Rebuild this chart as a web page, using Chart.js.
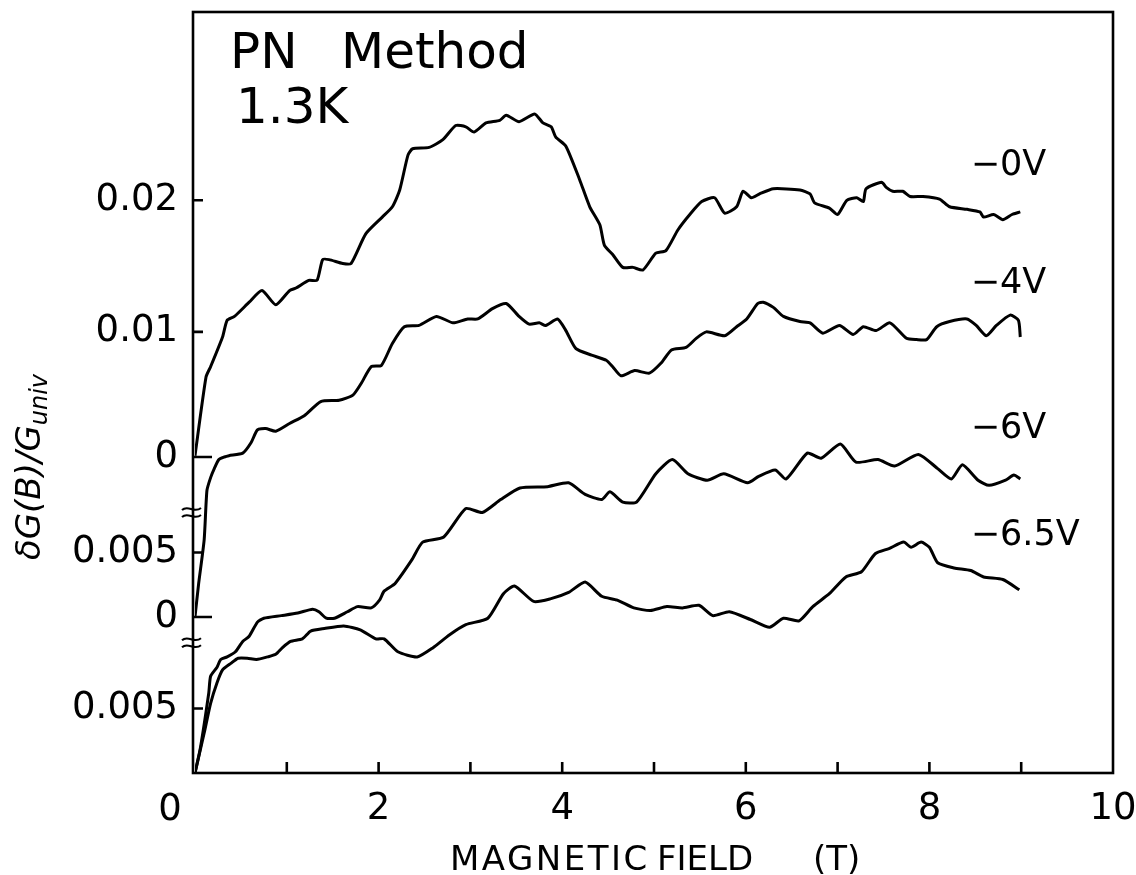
<!DOCTYPE html>
<html>
<head>
    <title>PN Method 1.3K</title>
    <script src="https://cdn.jsdelivr.net/npm/chart.js"></script>
    <style>
        body { margin: 0; background: #fff; }
        canvas { display: block; }
    </style>
</head>
<body>
    <canvas id="fieldChart" width="1136" height="875"></canvas>

    <script>
        // traces on the stacked axis, units of 1e-3 (each trace drawn on its own offset zero)
        const field0V = [0, 0.12, 0.17, 0.30, 0.35, 0.43, 0.59, 0.73, 0.88, 1.03, 1.10, 1.24, 1.33, 1.39, 1.46, 1.61, 1.70, 1.86, 2.04, 2.15, 2.23, 2.32, 2.37, 2.55, 2.70, 2.84, 2.95, 3.04, 3.17, 3.32, 3.39, 3.53, 3.70, 3.79, 3.88, 3.93, 4.04, 4.19, 4.30, 4.41, 4.46, 4.55, 4.66, 4.77, 4.88, 5.02, 5.13, 5.26, 5.39, 5.52, 5.66, 5.77, 5.90, 5.97, 6.06, 6.15, 6.30, 6.59, 6.70, 6.75, 6.91, 7.00, 7.10, 7.21, 7.28, 7.31, 7.48, 7.53, 7.60, 7.71, 7.79, 7.93, 8.11, 8.22, 8.41, 8.55, 8.59, 8.70, 8.80, 8.90, 8.99];
        const trace0V = [24.6, 30.7, 31.5, 33.8, 35.1, 35.4, 36.5, 37.4, 36.3, 37.4, 37.6, 38.2, 38.2, 39.8, 39.8, 39.5, 39.5, 41.8, 43.1, 43.9, 45.2, 47.9, 48.4, 48.5, 49.1, 50.2, 50.1, 49.7, 50.4, 50.6, 51.0, 50.5, 51.1, 50.4, 50.1, 49.3, 48.6, 46.0, 43.9, 42.5, 40.9, 40.2, 39.2, 39.2, 39.0, 40.3, 40.5, 42.1, 43.3, 44.3, 44.6, 43.4, 43.9, 45.1, 44.6, 44.9, 45.3, 45.2, 44.9, 44.2, 43.8, 43.3, 44.4, 44.6, 44.3, 45.3, 45.8, 45.4, 45.1, 45.1, 44.7, 44.7, 44.5, 43.9, 43.7, 43.5, 43.1, 43.3, 42.9, 43.3, 43.5];

        const field4V = [0, 0.04, 0.10, 0.13, 0.17, 0.21, 0.26, 0.32, 0.37, 0.52, 0.61, 0.68, 0.77, 0.88, 1.03, 1.19, 1.37, 1.57, 1.72, 1.81, 1.92, 2.03, 2.15, 2.28, 2.44, 2.63, 2.81, 2.97, 3.08, 3.24, 3.39, 3.53, 3.64, 3.75, 3.82, 3.95, 4.04, 4.15, 4.32, 4.48, 4.55, 4.64, 4.79, 4.95, 5.08, 5.19, 5.35, 5.46, 5.57, 5.77, 5.90, 6.01, 6.13, 6.19, 6.30, 6.41, 6.59, 6.70, 6.84, 7.02, 7.17, 7.28, 7.42, 7.57, 7.75, 7.86, 7.97, 8.08, 8.22, 8.41, 8.51, 8.62, 8.73, 8.88, 8.97, 8.99];
        const trace4V = [12.1, 14.7, 18.1, 21.9, 22.9, 23.6, 24.3, 24.5, 24.6, 24.8, 25.6, 26.6, 26.7, 26.5, 27.1, 27.7, 28.8, 28.9, 29.3, 30.2, 31.5, 31.6, 33.3, 34.6, 34.7, 35.4, 34.9, 35.2, 35.2, 36.0, 36.4, 35.4, 34.8, 34.9, 34.7, 35.2, 34.3, 32.9, 32.4, 32.0, 31.5, 30.8, 31.2, 31.0, 31.8, 32.8, 33.0, 33.7, 34.2, 33.9, 34.6, 35.2, 36.4, 36.5, 36.1, 35.4, 35.0, 34.9, 34.1, 34.7, 34.0, 34.6, 34.3, 34.9, 33.7, 33.6, 33.6, 34.6, 35.0, 35.2, 34.7, 33.9, 34.7, 35.5, 35.1, 33.8];

        const field6V = [0, 0.06, 0.15, 0.17, 0.24, 0.28, 0.35, 0.44, 0.52, 0.59, 0.68, 0.75, 0.94, 1.12, 1.28, 1.35, 1.43, 1.52, 1.66, 1.77, 1.92, 2.01, 2.06, 2.18, 2.36, 2.48, 2.71, 2.95, 3.13, 3.33, 3.54, 3.84, 4.07, 4.25, 4.43, 4.52, 4.66, 4.81, 5.02, 5.20, 5.37, 5.58, 5.76, 6.02, 6.14, 6.32, 6.44, 6.67, 6.82, 7.03, 7.20, 7.44, 7.62, 7.88, 8.09, 8.24, 8.36, 8.53, 8.65, 8.83, 8.92, 8.99];
        const trace6V = [0, 2.0, 6.2, 7.5, 8.2, 8.8, 9.0, 9.4, 10.2, 10.6, 11.7, 12.0, 12.2, 12.4, 12.7, 12.5, 12.0, 12.0, 12.5, 12.9, 12.8, 13.4, 14.1, 14.7, 16.5, 17.9, 18.3, 20.5, 20.2, 21.2, 22.1, 22.2, 22.5, 21.6, 21.2, 21.8, 21.0, 21.0, 23.2, 24.3, 23.2, 22.7, 23.2, 22.5, 23.0, 23.5, 22.8, 24.8, 24.4, 25.5, 24.1, 24.3, 23.8, 24.7, 23.6, 22.8, 23.9, 22.7, 22.3, 22.7, 23.1, 22.8];

        const field65V = [0, 0.10, 0.17, 0.24, 0.30, 0.39, 0.47, 0.57, 0.67, 0.79, 0.88, 0.95, 1.04, 1.17, 1.26, 1.41, 1.62, 1.80, 1.97, 2.06, 2.21, 2.42, 2.59, 2.77, 2.95, 3.19, 3.36, 3.48, 3.69, 3.87, 4.07, 4.25, 4.43, 4.60, 4.78, 4.96, 5.14, 5.31, 5.49, 5.64, 5.82, 6.05, 6.26, 6.41, 6.58, 6.73, 6.91, 7.09, 7.26, 7.41, 7.56, 7.72, 7.80, 7.91, 8.00, 8.09, 8.27, 8.45, 8.59, 8.80, 8.98];
        const trace65V = [0, 3.1, 5.4, 7.0, 8.0, 8.5, 8.9, 8.9, 8.8, 9.0, 9.2, 9.7, 10.2, 10.4, 11.0, 11.2, 11.4, 11.1, 10.4, 10.4, 9.4, 9.0, 9.7, 10.7, 11.5, 12.0, 13.9, 14.5, 13.3, 13.5, 14.0, 14.8, 13.7, 13.4, 12.8, 12.6, 12.9, 12.8, 13.0, 12.2, 12.5, 11.9, 11.3, 12.0, 11.8, 12.9, 13.9, 15.2, 15.6, 17.0, 17.4, 17.9, 17.5, 17.9, 17.5, 16.3, 15.9, 15.7, 15.2, 15.0, 14.2];

        // broken y axis: where each label sits and what it reads
        const tickPos = [5.0, 12.1, 17.1, 24.5, 34.2, 44.4];
        const tickText = ['0.005', '0', '0.005', '0', '0.01', '0.02'];
        const breakPos = [10.1, 20.2];

        const gateLabels = ['\u22120V', '\u22124V', '\u22126V', '\u22126.5V'];

        const font = "'DejaVu Sans', sans-serif";
        Chart.defaults.font.family = font;
        Chart.defaults.color = '#000';

        function points(xs, ys) {
            return xs.map((b, i) => ({ x: b, y: ys[i] }));
        }

        function trace(label, xs, ys) {
            return {
                label: label,
                data: points(xs, ys),
                borderColor: '#000',
                borderWidth: 3,
                pointRadius: 0,
                tension: 0.2,
                fill: false
            };
        }

        // keep the plot box where it is, labels may hang outside it
        function noPadding(s) {
            s.paddingTop = 0;
            s.paddingBottom = 0;
            s.paddingLeft = 0;
            s.paddingRight = 0;
        }

        // frame, inner ticks, axis breaks and the free text
        const frame = {
            id: 'frame',
            afterDraw(chart) {
                const { ctx, chartArea: a, scales: { x, y } } = chart;
                const left = a.left - 2;
                ctx.save();
                ctx.strokeStyle = '#000';
                ctx.fillStyle = '#000';
                ctx.lineWidth = 2.6;
                ctx.strokeRect(left, a.top, a.right - left, a.bottom - a.top);

                ctx.beginPath();
                for (let b = 1; b < 10; b++) {
                    const px = x.getPixelForValue(b);
                    ctx.moveTo(px, a.bottom);
                    ctx.lineTo(px, a.bottom - 11);
                }
                tickPos.forEach((v, i) => {
                    const py = y.getPixelForValue(v);
                    ctx.moveTo(left, py);
                    ctx.lineTo(left + (tickText[i] === '0' ? 19 : 10), py);
                });
                ctx.stroke();

                ctx.lineWidth = 2;
                breakPos.forEach(v => {
                    const py = y.getPixelForValue(v);
                    [-3.5, 3.5].forEach(dy => {
                        ctx.beginPath();
                        ctx.moveTo(left - 11, py + dy + 1);
                        ctx.bezierCurveTo(left - 5, py + dy - 5, left + 1, py + dy + 5, left + 8, py + dy - 1);
                        ctx.stroke();
                    });
                });

                ctx.textAlign = 'left';
                ctx.textBaseline = 'alphabetic';
                ctx.font = '50px ' + font;
                ctx.fillText('PN', 230, 68);
                ctx.fillText('Method', 341, 68);
                ctx.fillText('1.3K', 236, 123);

                ctx.font = '35px ' + font;
                const labelY = [46.4, 37.2, 26.0, 17.7];
                gateLabels.forEach((t, i) => {
                    ctx.fillText(t, x.getPixelForValue(8.45), y.getPixelForValue(labelY[i]));
                });

                ctx.font = '34px ' + font;
                ctx.letterSpacing = '2.5px';
                ctx.fillText('MAGNETIC', 450, 870);
                ctx.letterSpacing = '0px';
                ctx.fillText('FIELD', 657, 870);
                ctx.fillText('(T)', 813, 870);

                ctx.font = '37px ' + font;
                ctx.textAlign = 'center';
                ctx.fillText('0', 170, 820);

                // rotated y title with subscript
                ctx.translate(40, 467);
                ctx.rotate(-Math.PI / 2);
                ctx.textAlign = 'left';
                const main = '\u03b4G(B)/G';
                ctx.font = 'italic 34px ' + font;
                const w1 = ctx.measureText(main).width;
                ctx.font = 'italic 24px ' + font;
                const w2 = ctx.measureText('univ').width;
                const sx = -(w1 + w2) / 2;
                ctx.font = 'italic 34px ' + font;
                ctx.fillText(main, sx, 0);
                ctx.font = 'italic 24px ' + font;
                ctx.fillText('univ', sx + w1, 7);
                ctx.restore();
            }
        };

        const ctx = document.getElementById('fieldChart').getContext('2d');
        const chart = new Chart(ctx, {
            type: 'line',
            data: {
                datasets: [
                    trace('-0V', field0V, trace0V),
                    trace('-4V', field4V, trace4V),
                    trace('-6V', field6V, trace6V),
                    trace('-6.5V', field65V, trace65V)
                ]
            },
            options: {
                responsive: false,
                animation: false,
                layout: { padding: { top: 12, right: 23, left: 0, bottom: 0 } },
                plugins: {
                    legend: { display: false },
                    tooltip: { enabled: false }
                },
                scales: {
                    x: {
                        type: 'linear',
                        min: 0,
                        max: 10,
                        grid: { display: false, drawTicks: false },
                        border: { display: false },
                        ticks: {
                            stepSize: 2,
                            padding: 14,
                            maxRotation: 0,
                            autoSkip: false,
                            font: { size: 37 },
                            callback: v => (v === 0 ? '' : v)
                        },
                        afterFit: s => { s.height = 102; noPadding(s); }
                    },
                    y: {
                        type: 'linear',
                        min: 0,
                        max: 59,
                        grid: { display: false, drawTicks: false },
                        border: { display: false },
                        afterBuildTicks: s => { s.ticks = tickPos.map(v => ({ value: v })); },
                        ticks: {
                            padding: 17,
                            autoSkip: false,
                            font: { size: 37 },
                            callback: v => tickText[tickPos.indexOf(v)]
                        },
                        afterFit: s => { s.width = 195; noPadding(s); }
                    }
                }
            },
            plugins: [frame]
        });
    </script>
</body>
</html>
